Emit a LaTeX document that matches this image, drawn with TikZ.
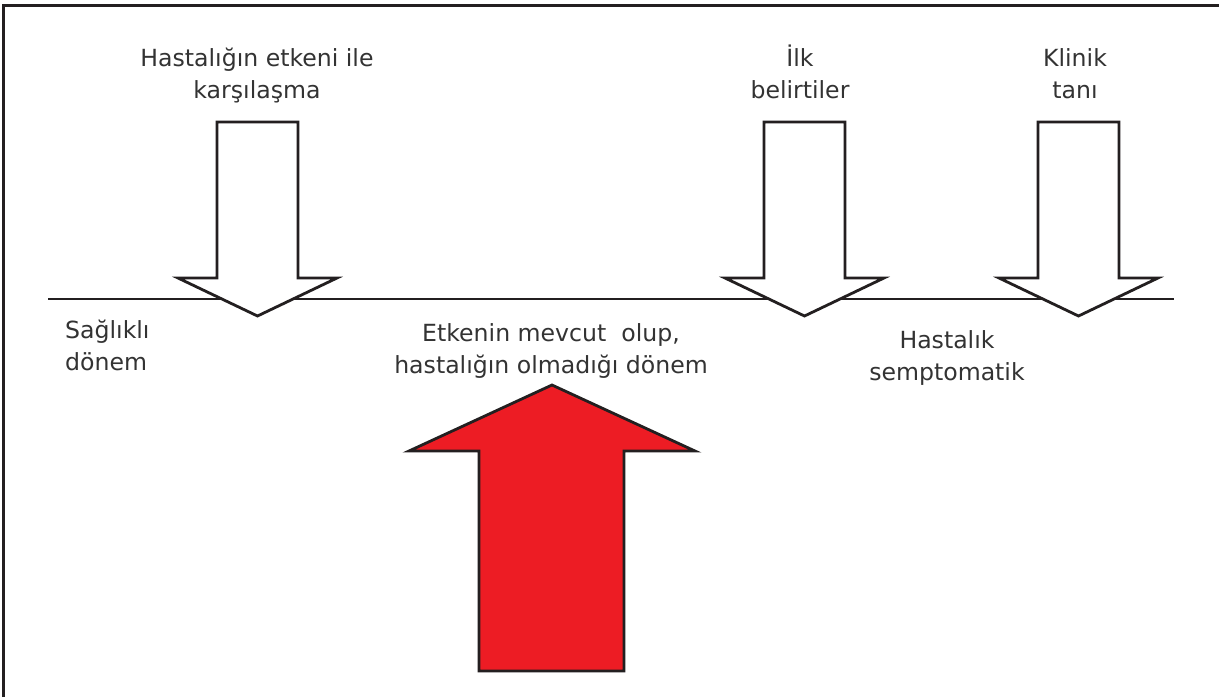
\documentclass[tikz,border=0pt]{standalone}
\usepackage{fontspec}
\setmainfont{DejaVu Sans}
\definecolor{ink}{HTML}{231F20}
\definecolor{txt}{HTML}{333333}
\definecolor{arrowred}{HTML}{ED1C24}
\begin{document}
\begin{tikzpicture}[x=1pt,y=-1pt,
  lbl/.style={font=\fontsize{23.6}{32}\selectfont, text=txt, align=center, inner sep=0pt, anchor=base},
  outline/.style={draw=ink, line width=2.8pt, line join=miter},
  ]
\useasboundingbox (0,0) rectangle (1219,697);
\fill[white] (0,0) rectangle (1219,697);
% frame (only top and left edges visible)
\draw[ink, line width=3pt] (3.3,697) -- (3.3,5) -- (1219,5);
% timeline
\coordinate (tl0) at (48,299);
\coordinate (tl1) at (1174,299);
\draw[ink, line width=2.2pt] (tl0) -- (tl1);
% down arrows
\foreach \c in {257.5, 804.5, 1078.5}
  \filldraw[outline, fill=white] (\c-40.5,122) -- (\c+40.5,122) -- (\c+40.5,278) -- (\c+79.5,278) -- (\c,316) -- (\c-79.5,278) -- (\c-40.5,278) -- cycle;
% red up arrow
\filldraw[outline, fill=arrowred] (479,671) -- (479,451) -- (409,451) -- (552,385) -- (695,451) -- (624,451) -- (624,671) -- cycle;
% labels (anchor = baseline of the last line)
\node[lbl] (t1) at (257,98) {Hastalığın etkeni ile\\karşılaşma};
\node[lbl] (t2) at (800,98) {İlk\\belirtiler};
\node[lbl] (t3) at (1075,98) {Klinik\\tanı};
\node[lbl, align=left, anchor=base west] (t4) at (65,370) {Sağlıklı\\dönem};
\node[lbl] (t5) at (551,373) {Etkenin mevcut\ \ olup,\\hastalığın olmadığı dönem};
\node[lbl] (t6) at (947,380) {Hastalık\\semptomatik};
\end{tikzpicture}
\end{document}
